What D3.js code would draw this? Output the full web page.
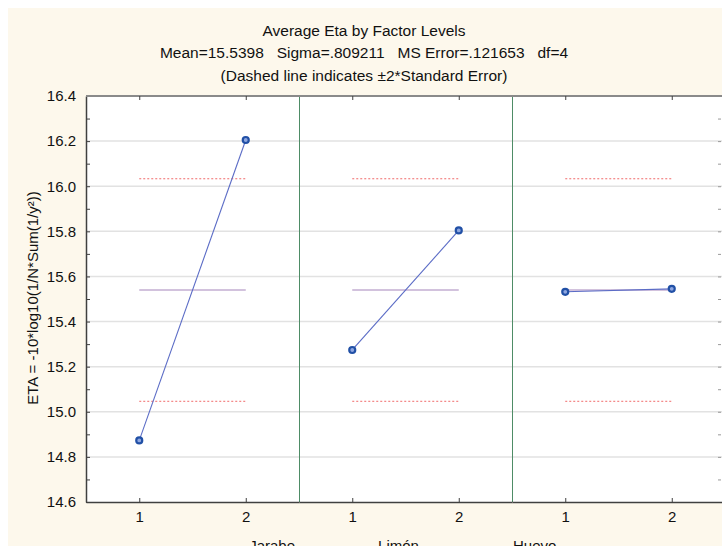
<!DOCTYPE html>
<html>
<head>
<meta charset="utf-8">
<script src="https://cdn.jsdelivr.net/npm/d3@7"></script>
<style>
  body { margin: 0; background: #fff; }
  svg { display: block; font-family: 'Liberation Sans', Arial, sans-serif; }
</style>
</head>
<body>
<div id="chart"></div>
<script>
// data
var factors = ['Jarabe', 'Limón', 'Huevo'];
var levels = ['1', '2'];
var jarabeEta = [14.873, 16.205];
var limonEta = [15.274, 15.804];
var huevoEta = [15.532, 15.545];
var grandMean = 15.5398;
var seLimits = [15.0465, 16.0331];   // mean -/+ 2*SE
var yMajorTicks = [14.6, 14.8, 15.0, 15.2, 15.4, 15.6, 15.8, 16.0, 16.2, 16.4];
var yMinorTicks = [14.7, 14.9, 15.1, 15.3, 15.5, 15.7, 15.9, 16.1, 16.3];
var titleLines = [
  'Average Eta by Factor Levels',
  'Mean=15.5398   Sigma=.809211   MS Error=.121653   df=4',
  '(Dashed line indicates \u00b12*Standard Error)'
];

var series = [jarabeEta, limonEta, huevoEta];

var width = 722;
var height = 546;
// the plot runs a little past the right edge of the window
var plot = { left: 86, top: 96, right: 725, bottom: 502 };

var svg = d3.select('#chart')
  .append('svg')
  .attr('width', width)
  .attr('height', height);

// cream page background
svg.append('rect')
  .attr('x', 8).attr('y', 8)
  .attr('width', width - 8).attr('height', height - 8)
  .attr('fill', '#fdf8ec');

svg.append('rect')
  .attr('x', plot.left).attr('y', plot.top)
  .attr('width', plot.right - plot.left).attr('height', plot.bottom - plot.top)
  .attr('fill', '#fff');

var y = d3.scaleLinear()
  .domain([14.6, 16.4])
  .range([plot.bottom, plot.top]);

var panel = d3.scaleBand()
  .domain(factors)
  .range([plot.left, plot.right])
  .padding(0);

var lvl = d3.scalePoint()
  .domain(levels)
  .range([0, panel.bandwidth()])
  .padding(0.5);

// grid lines at inner major ticks
svg.append('g')
  .selectAll('line')
  .data(yMajorTicks.slice(1, -1))
  .enter()
  .append('line')
    .attr('x1', plot.left).attr('x2', plot.right)
    .attr('y1', function (d) { return y(d); })
    .attr('y2', function (d) { return y(d); })
    .attr('stroke', '#e2e2e2')
    .attr('stroke-width', 1.5);

// separators between factors
svg.append('g')
  .selectAll('line')
  .data(factors.slice(1))
  .enter()
  .append('line')
    .attr('x1', function (d) { return Math.round(panel(d)) + 0.5; })
    .attr('x2', function (d) { return Math.round(panel(d)) + 0.5; })
    .attr('y1', plot.top).attr('y2', plot.bottom)
    .attr('stroke', '#4e8c66')
    .attr('stroke-width', 1);

// y axes (ticks point inward)
var yAxis = d3.axisLeft(y)
  .tickValues(yMajorTicks)
  .tickFormat(d3.format('.1f'))
  .tickSizeInner(-4)
  .tickSizeOuter(0)
  .tickPadding(10);

var gy = svg.append('g')
  .attr('transform', 'translate(' + plot.left + ',0)')
  .call(yAxis);
gy.selectAll('text').attr('font-size', 15).attr('fill', '#111').attr('font-family', null);
gy.select('.domain').attr('stroke', '#404040').attr('stroke-width', 1.5);
gy.selectAll('.tick line').attr('stroke', '#404040');

var gyMinor = svg.append('g')
  .attr('transform', 'translate(' + plot.left + ',0)')
  .call(d3.axisLeft(y).tickValues(yMinorTicks).tickSize(-4).tickFormat(''));
gyMinor.select('.domain').remove();
gyMinor.selectAll('line').attr('stroke', '#404040');

var gyRight = svg.append('g')
  .attr('transform', 'translate(721,0)')
  .call(d3.axisRight(y).tickValues(yMajorTicks.concat(yMinorTicks)).tickSize(-3).tickFormat(''));
gyRight.select('.domain').remove();
gyRight.selectAll('line').attr('stroke', '#999');

// top border
svg.append('line')
  .attr('x1', plot.left).attr('x2', plot.right)
  .attr('y1', plot.top).attr('y2', plot.top)
  .attr('stroke', '#8a8a8a')
  .attr('stroke-width', 2);

// x axes per panel
factors.forEach(function (f) {
  var xs = d3.scalePoint().domain(levels)
    .range([panel(f), panel(f) + panel.bandwidth()]).padding(0.5);

  var gx = svg.append('g')
    .attr('transform', 'translate(0,' + plot.bottom + ')')
    .call(d3.axisBottom(xs).tickSizeInner(-4).tickSizeOuter(0).tickPadding(9));
  gx.selectAll('text').attr('font-size', 15).attr('fill', '#111').attr('font-family', null);
  gx.select('.domain').attr('stroke', '#404040').attr('stroke-width', 1.5);
  gx.selectAll('.tick line').attr('stroke', '#404040');

  var gt = svg.append('g')
    .attr('transform', 'translate(0,' + plot.top + ')')
    .call(d3.axisTop(xs).tickSize(-4).tickFormat(''));
  gt.select('.domain').remove();
  gt.selectAll('line').attr('stroke', '#404040');
});

// factor names below the axis (cut off by the window, as in the original)
var nameAnchor = ['end', 'middle', 'start'];
svg.append('g')
  .selectAll('text')
  .data(factors)
  .enter()
  .append('text')
    .attr('x', function (d, i) {
      if (i === 0) return panel(d) + panel.bandwidth() - 4;
      if (i === 1) return panel(d) + panel.bandwidth() / 2 - 7;
      return panel(d) + 1;
    })
    .attr('y', 551)
    .attr('text-anchor', function (d, i) { return nameAnchor[i]; })
    .attr('font-size', 15)
    .attr('fill', '#111')
    .text(function (d) { return d; });

// mean and +-2SE lines, data lines and points
factors.forEach(function (f, i) {
  var x0 = panel(f) + lvl(levels[0]);
  var x1 = panel(f) + lvl(levels[levels.length - 1]);
  var g = svg.append('g');

  g.selectAll('.limit')
    .data(seLimits)
    .enter()
    .append('line')
      .attr('class', 'limit')
      .attr('x1', x0).attr('x2', x1)
      .attr('y1', function (d) { return y(d); })
      .attr('y2', function (d) { return y(d); })
      .attr('stroke', '#f06a6a')
      .attr('stroke-width', 1)
      .attr('stroke-dasharray', '2,2');

  g.append('line')
    .attr('x1', x0).attr('x2', x1)
    .attr('y1', y(grandMean)).attr('y2', y(grandMean))
    .attr('stroke', '#a585bb')
    .attr('stroke-width', 1.2);

  var line = d3.line()
    .x(function (d, j) { return panel(f) + lvl(levels[j]); })
    .y(function (d) { return y(d); });

  g.append('path')
    .datum(series[i])
    .attr('d', line)
    .attr('fill', 'none')
    .attr('stroke', '#5b6cc6')
    .attr('stroke-width', 1.1);

  g.selectAll('circle')
    .data(series[i])
    .enter()
    .append('circle')
      .attr('cx', function (d, j) { return panel(f) + lvl(levels[j]); })
      .attr('cy', function (d) { return y(d); })
      .attr('r', 3)
      .attr('fill', '#8ea6e0')
      .attr('stroke', '#2150a6')
      .attr('stroke-width', 2.2);
});

// titles
svg.append('g')
  .selectAll('text')
  .data(titleLines)
  .enter()
  .append('text')
    .attr('x', 364)
    .attr('y', function (d, i) { return 35.5 + i * 22.5; })
    .attr('text-anchor', 'middle')
    .attr('font-size', 15.5)
    .attr('fill', '#111')
    .style('white-space', 'pre')
    .text(function (d) { return d; });

// y axis label
svg.append('text')
  .attr('transform', 'translate(38,298)rotate(-90)')
  .attr('text-anchor', 'middle')
  .attr('font-size', 15)
  .attr('fill', '#111')
  .text('ETA = -10*log10(1/N*Sum(1/y\u00b2))');
</script>
</body>
</html>
